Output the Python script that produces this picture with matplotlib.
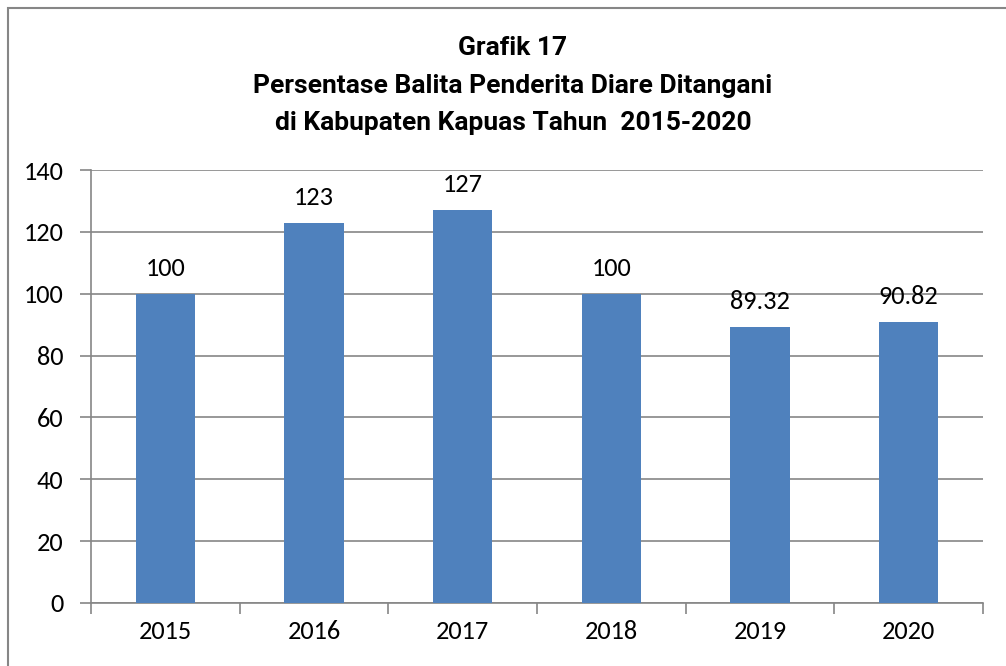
import matplotlib
matplotlib.use("Agg")
import matplotlib.pyplot as plt
from matplotlib import font_manager
from matplotlib.patches import Rectangle

years = ["2015", "2016", "2017", "2018", "2019", "2020"]
values = [100, 123, 127, 100, 89.32, 90.82]
value_labels = ["100", "123", "127", "100", "89.32", "90.82"]
title_lines = ["Grafik 17",
               "Persentase Balita Penderita Diare Ditangani",
               "di Kabupaten Kapuas Tahun  2015-2020"]

installed = {f.name for f in font_manager.fontManager.ttflist}
body_font = [f for f in ["Carlito", "Lato", "DejaVu Sans"] if f in installed]
title_font = [f for f in ["Liberation Sans Narrow", "Roboto", "DejaVu Sans"] if f in installed]
plt.rcParams["font.family"] = body_font

fig = plt.figure(figsize=(10.06, 6.66), dpi=100)
# outer chart border
fig.patches.append(Rectangle((8 / 1006, -0.05), 1.2, (666 - 8) / 666 + 0.05,
                             transform=fig.transFigure, fill=False,
                             edgecolor="#868686", linewidth=1.5))

ax = fig.add_axes([91 / 1006, 63 / 666, (983 - 91) / 1006, (603 - 170) / 666])
x = list(range(len(years)))
ax.bar(x, values, width=0.4, color="#4f81bd", zorder=3)
for xi, v, lab in zip(x, values, value_labels):
    ax.text(xi, v + 4.5, lab, ha="center", va="bottom", fontsize=19, zorder=4)

ax.set_xlim(-0.5, len(years) - 0.5)
ax.set_ylim(0, 140)
ax.set_yticks(range(0, 141, 20))
ax.grid(axis="y", color="#868686", linewidth=1.2, zorder=0)
ax.set_xticks([i - 0.5 for i in range(len(years) + 1)])
ax.set_xticklabels([])
ax.set_xticks(x, minor=True)
ax.set_xticklabels(years, minor=True)
ax.tick_params(axis="x", which="major", length=8, width=1.2, color="#868686", direction="out")
ax.tick_params(axis="x", which="minor", length=0, labelsize=19, pad=12)
ax.tick_params(axis="y", length=8, width=1.2, color="#868686", labelsize=19, pad=12)
for s in ["top", "right"]:
    ax.spines[s].set_visible(False)
for s in ["left", "bottom"]:
    ax.spines[s].set_color("#868686")
    ax.spines[s].set_linewidth(1.2)

for i, line in enumerate(title_lines):
    fig.text(513 / 1006, 1 - (48 + 37.5 * i) / 666, line, ha="center", va="center",
             fontsize=19, fontweight="bold", family=title_font)

fig.savefig("out.png", dpi=100)
